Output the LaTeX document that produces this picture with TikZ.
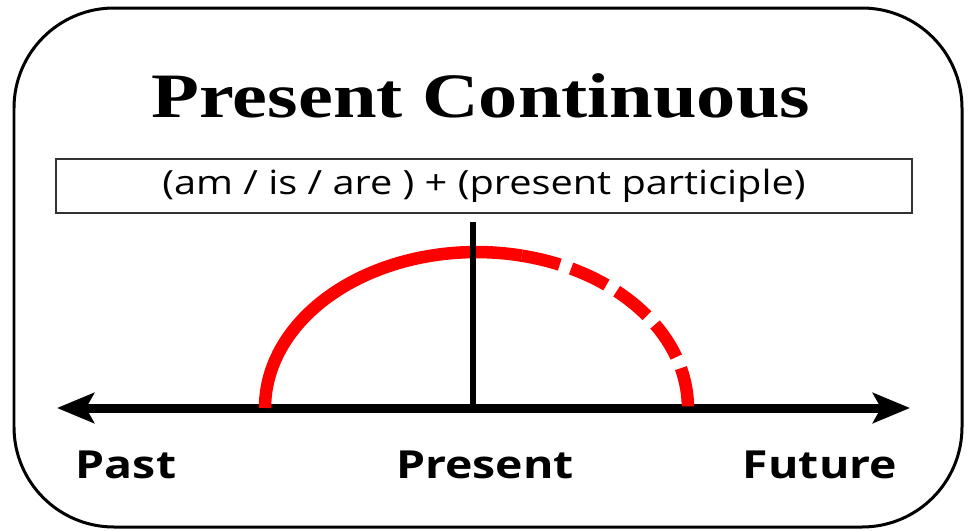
\documentclass[tikz,border=0pt]{standalone}
\usepackage{fontspec}
\setmainfont{Liberation Serif}
\newfontfamily\labelfont{Open Sans}
\usetikzlibrary{arrows.meta}

\begin{document}
\begin{tikzpicture}[
x=0.02cm, y=-0.02cm,
frame/.style={line width=0.06cm, rounded corners=2cm},
formbox/.style={draw=black!80, line width=0.03cm, minimum width=17.12cm, minimum height=1.08cm, inner sep=0pt, font=\labelfont\fontsize{19}{22}\selectfont},
title/.style={anchor=base, inner sep=0pt, font=\bfseries\fontsize{36}{40}\selectfont},
timelabel/.style={anchor=base, inner sep=0pt, font=\labelfont\bfseries\fontsize{22}{26}\selectfont},
axis/.style={line width=0.18cm, {Stealth[length=0.74cm, width=0.6cm, inset=0.16cm]}-{Stealth[length=0.74cm, width=0.6cm, inset=0.16cm]}},
nowline/.style={line width=0.13cm},
action/.style={draw=red, line width=0.25cm}
]
\useasboundingbox (0,0) rectangle (971,531);
\draw[frame] (14,8) rectangle (962,527);

\node[title] (heading) at (481,117) {\scalebox{1.24}[1]{Present Continuous}};
\node[formbox] (formula) at (484,186) {\scalebox{1.19}[1]{(am / is / are ) + (present participle)}};

\coordinate (pastend) at (57,408);
\coordinate (futureend) at (910,408);
\coordinate (now) at (473,408);
\coordinate (nowtop) at (473,222);
\coordinate (arcstart) at (265,408);

\draw[axis] (pastend) -- (futureend);
\draw[action] (arcstart) arc[start angle=180, end angle=77.6, x radius=4.23cm, y radius=3.12cm] coordinate (arcmid);
\draw[action, dash pattern=on 0.78cm off 0.24cm] (arcmid) arc[start angle=77.6, end angle=0, x radius=4.23cm, y radius=3.12cm];
\draw[nowline] (nowtop) -- (now);

\node[timelabel] (past) at (126,478) {\scalebox{1.2}[1]{Past}};
\node[timelabel] (present) at (485,478) {\scalebox{1.2}[1]{Present}};
\node[timelabel] (future) at (820,478) {\scalebox{1.2}[1]{Future}};
\end{tikzpicture}
\end{document}
